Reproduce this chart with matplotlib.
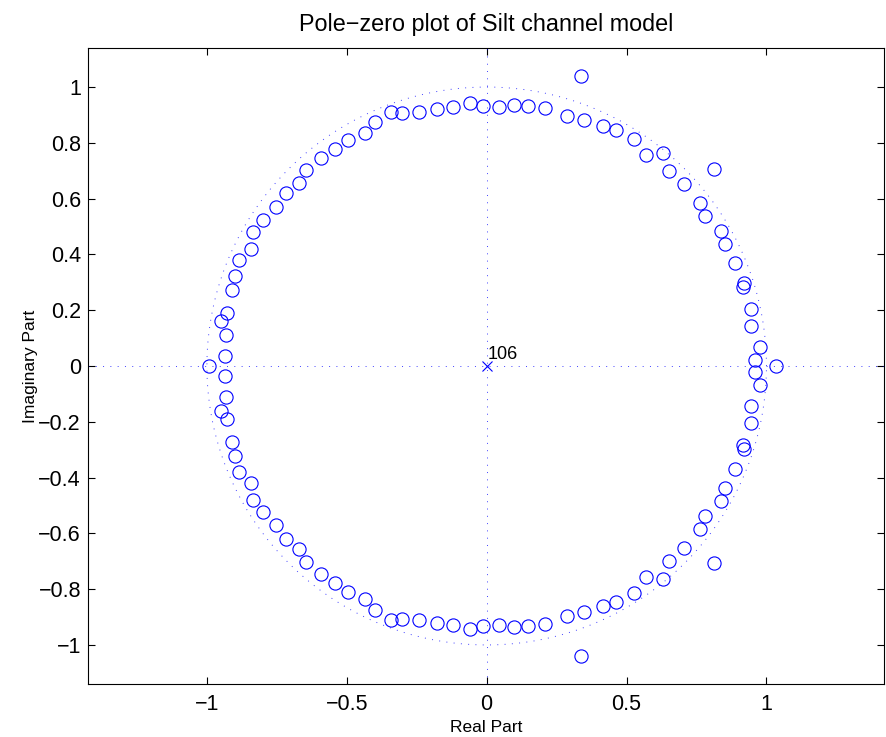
import numpy as np
import matplotlib
matplotlib.use("Agg")
import matplotlib.pyplot as plt

# zeros in the upper half plane (the lower half are the conjugates)
zero_re = [-0.934, -0.931, -0.951, -0.929, -0.910, -0.898, -0.884, -0.841,
           -0.835, -0.801, -0.752, -0.718, -0.670, -0.644, -0.592, -0.541,
           -0.497, -0.435, -0.398, -0.342, -0.301, -0.242, -0.176, -0.121,
           -0.060, -0.012,
           0.043, 0.098, 0.149, 0.210, 0.286, 0.336, 0.349, 0.414, 0.463,
           0.525, 0.568, 0.630, 0.652, 0.811, 0.706, 0.761, 0.782, 0.837,
           0.852, 0.887, 0.921, 0.915, 0.945, 0.945, 0.977, 0.960]
zero_im = [0.036, 0.112, 0.162, 0.189, 0.272, 0.323, 0.380, 0.418,
           0.480, 0.523, 0.569, 0.621, 0.656, 0.704, 0.747, 0.779,
           0.810, 0.834, 0.876, 0.912, 0.906, 0.912, 0.920, 0.929,
           0.944, 0.933,
           0.929, 0.935, 0.932, 0.925, 0.896, 1.039, 0.882, 0.860, 0.846,
           0.812, 0.756, 0.762, 0.699, 0.706, 0.651, 0.583, 0.538, 0.484,
           0.436, 0.368, 0.299, 0.282, 0.206, 0.143, 0.069, 0.022]
real_zeros = [-0.994, 1.034]
n_poles = 106

x_ticks = [-1, -0.5, 0, 0.5, 1]
x_labels = ["\u22121", "\u22120.5", "0", "0.5", "1"]
y_ticks = [-1, -0.8, -0.6, -0.4, -0.2, 0, 0.2, 0.4, 0.6, 0.8, 1]
y_labels = ["\u22121", "\u22120.8", "\u22120.6", "\u22120.4", "\u22120.2", "0",
            "0.2", "0.4", "0.6", "0.8", "1"]

plt.rcParams["font.family"] = ["Liberation Sans", "DejaVu Sans"]

fig = plt.figure(figsize=(8.86, 7.37), dpi=100)
ax = fig.add_axes([0.0993, 0.0719, 0.8984, 0.863])

re = np.concatenate([zero_re, zero_re, real_zeros])
im = np.concatenate([zero_im, -np.array(zero_im), np.zeros(len(real_zeros))])

blue = (0, 0, 1)
dot = (0, (1, 6.5))

# unit circle and axis lines
theta = np.linspace(0, 2 * np.pi, 400)
ax.plot(np.cos(theta), np.sin(theta), color=blue, lw=0.7, ls=dot, alpha=0.75)
ax.axhline(0, color=blue, lw=0.7, ls=dot, alpha=0.75)
ax.axvline(0, color=blue, lw=0.7, ls=dot, alpha=0.75)

ax.plot(re, im, "o", mfc="none", mec=blue, ms=9.5, mew=0.8)
ax.plot([0], [0], "x", color=blue, ms=7, mew=0.8)
ax.text(0.004, 0.01, str(n_poles), fontsize=13, ha="left", va="bottom")

ax.set_xlim(-1.425, 1.42)
ax.set_ylim(-1.14, 1.14)
ax.set_xticks(x_ticks)
ax.set_xticklabels(x_labels)
ax.set_yticks(y_ticks)
ax.set_yticklabels(y_labels)
ax.tick_params(direction="in", top=True, right=True, length=5, width=0.8,
               labelsize=15.5)
ax.tick_params(axis="x", pad=7)
ax.tick_params(axis="y", pad=5)
for s in ax.spines.values():
    s.set_linewidth(0.8)

ax.set_xlabel("Real Part", fontsize=12.5, labelpad=4)
ax.set_ylabel("Imaginary Part", fontsize=12.5, labelpad=0)
ax.set_title("Pole\u2212zero plot of Silt channel model", fontsize=16.8, pad=12)

fig.savefig("out.png", dpi=100)
